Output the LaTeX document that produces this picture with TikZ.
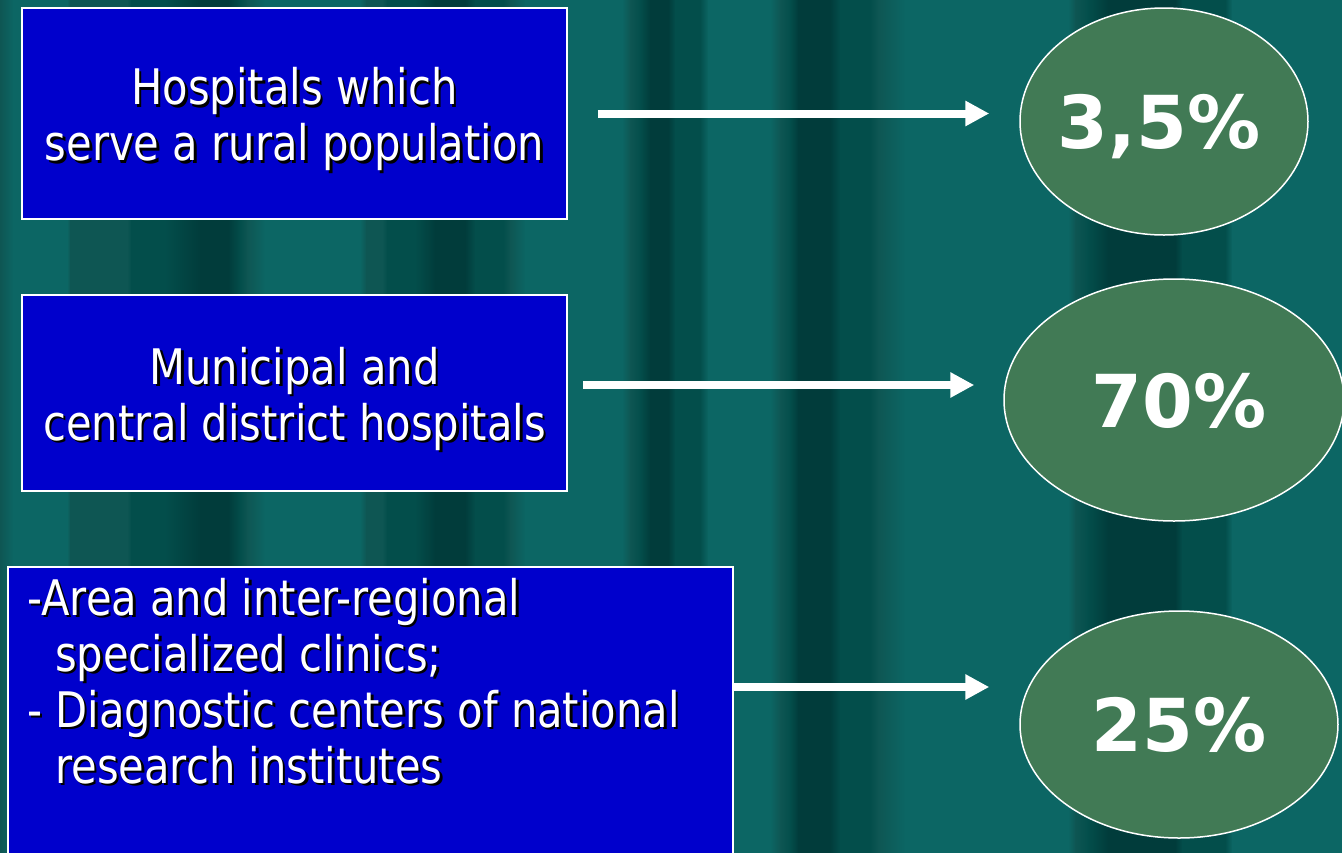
\documentclass[tikz,border=0pt]{standalone}
\usepackage{fontspec}
\setmainfont{DejaVu Sans}[FakeStretch=0.85]
\newfontfamily\pctfont{DejaVu Sans}
\usetikzlibrary{arrows.meta,shapes.geometric}
\definecolor{L}{RGB}{12,102,100}
\definecolor{D}{RGB}{1,60,59}
\definecolor{M}{RGB}{3,78,75}
\definecolor{G}{RGB}{14,86,83}
\definecolor{boxblue}{RGB}{0,0,204}
\definecolor{ellgreen}{RGB}{65,122,85}
\newcommand\shd[1]{\leavevmode\rlap{\kern2.5pt\raisebox{-2.5pt}{\color{black}#1}}#1}
\newcommand\topstrut{\rule{0pt}{51pt}}
\tikzset{
  bodytext/.style={text=white,font=\fontsize{49}{56}\selectfont},
  bluebox/.style={draw=white,line width=1.5pt,fill=boxblue,rectangle,inner sep=0pt,bodytext,align=center},
  pct/.style={draw=white,line width=1.5pt,fill=ellgreen,ellipse,inner sep=0pt,text=white,
    font=\pctfont\bfseries\fontsize{73}{73}\selectfont,text depth=0pt},
  arr/.style={draw=white,line width=8pt,-{Triangle[length=24pt,width=24pt]}}
}
\begin{document}
\begin{tikzpicture}[x=1pt,y=-1pt]
\useasboundingbox (0,0) rectangle (1342,852);
\clip (0,0) rectangle (1342,852);
% striped background
\foreach \x/\c [remember=\x as \px (initially 0), remember=\c as \pc (initially G)] in
 {0/G,13/L,67/L,70/G,127/G,131/M,165/M,200/D,228/D,240/M,247/G,265/L,360/L,366/G,382/G,387/M,415/M,435/D,465/D,475/M,503/M,510/G,525/L,622/L,630/G,640/M,650/D,668/D,675/M,700/M,708/L,770/L,780/G,790/M,798/D,830/D,840/M,870/M,878/G,905/L,1068/L,1075/G,1088/M,1108/D,1175/D,1182/M,1225/M,1232/L,1342/L}
 {\shade[left color=\pc,right color=\c] (\px,-1) rectangle (\x+0.6,853);}
% boxes
\node[bluebox,minimum width=545pt,minimum height=211pt] (b1) at (294.5,113.5)
  {\topstrut\shd{Hospitals which}\\\shd{serve a rural population}};
\node[bluebox,minimum width=545pt,minimum height=196pt] (b2) at (294.5,393)
  {\topstrut\shd{Municipal and}\\\shd{central district hospitals}};
\node[bluebox,minimum width=725pt,minimum height=303pt] (b3) at (370.5,718.5) {};
\node[bodytext,anchor=north west,inner sep=0pt,align=left] (t3) at (27,578)
  {\shd{-Area and inter-regional}\\
   \hspace*{28pt}\shd{specialized clinics;}\\
   \shd{- Diagnostic centers of national}\\
   \hspace*{28pt}\shd{research institutes}};
% ellipses
\node[pct,minimum width=288pt,minimum height=227pt] (e1) at (1164,121.5) {\hspace*{-10pt}3,5\%};
\node[pct,minimum width=340pt,minimum height=242pt] (e2) at (1174,400) {\hspace*{10pt}70\%};
\node[pct,minimum width=318pt,minimum height=227pt] (e3) at (1179,724.5) {25\%};
% arrows
\draw[arr,shorten <=30pt,shorten >=30pt] (b1.east) -- (b1.east -| e1.west);
\draw[arr,shorten <=15pt,shorten >=29pt] ([yshift=8pt]b2.east) -- ([yshift=8pt]b2.east -| e2.west);
\draw[arr,shorten >=30pt] ([yshift=31.5pt]b3.east) -- ([yshift=31.5pt]b3.east -| e3.west);
\end{tikzpicture}
\end{document}
